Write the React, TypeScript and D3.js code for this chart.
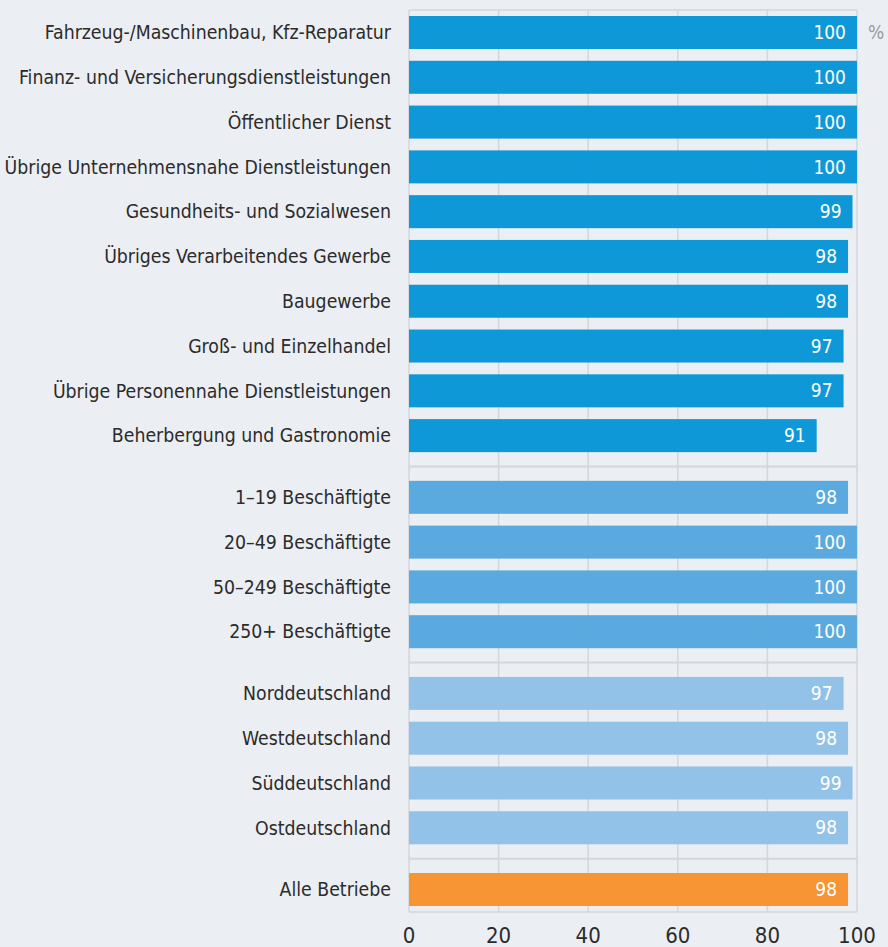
import React from "react";
import * as d3 from "d3";

const categories = [
  "Fahrzeug-/Maschinenbau, Kfz-Reparatur",
  "Finanz- und Versicherungsdienstleistungen",
  "Öffentlicher Dienst",
  "Übrige Unternehmensnahe Dienstleistungen",
  "Gesundheits- und Sozialwesen",
  "Übriges Verarbeitendes Gewerbe",
  "Baugewerbe",
  "Groß- und Einzelhandel",
  "Übrige Personennahe Dienstleistungen",
  "Beherbergung und Gastronomie",
  "1–19 Beschäftigte",
  "20–49 Beschäftigte",
  "50–249 Beschäftigte",
  "250+ Beschäftigte",
  "Norddeutschland",
  "Westdeutschland",
  "Süddeutschland",
  "Ostdeutschland",
  "Alle Betriebe",
];
const values = [100, 100, 100, 100, 99, 98, 98, 97, 97, 91, 98, 100, 100, 100, 97, 98, 99, 98, 98];
const groups = [0, 0, 0, 0, 0, 0, 0, 0, 0, 0, 1, 1, 1, 1, 2, 2, 2, 2, 3];
const groupColors = ["#0f98d7", "#5aaadf", "#93c2e8", "#f79433"];
const xTicks = [0, 20, 40, 60, 80, 100];

const W = 888;
const H = 947;
const FONT = "'DejaVu Sans Condensed', 'Liberation Sans Narrow', sans-serif";

export default function App() {
  const x = d3.scaleLinear().domain([0, 100]).range([409, 857]);
  const gapFrac = 17 / 45;
  const slots = categories.map((_, i) => i + groups[i] * gapFrac);
  const lastSlot = slots[slots.length - 1];
  const y = d3.scaleLinear().domain([0, lastSlot]).range([32.5, 889.5]);
  const barH = 33;
  const top = 10;
  const bottom = 912;
  const separators: number[] = [];
  for (let i = 1; i < categories.length; i++) {
    if (groups[i] !== groups[i - 1]) separators.push((y(slots[i - 1]) + y(slots[i])) / 2);
  }
  const gridColor = "#d3d6da";
  return (
    <svg
      width={W}
      height={H}
      style={{ position: "absolute", left: 0, top: 0, background: "#ebeef2", fontFamily: FONT }}
    >
      <rect x={0} y={0} width={W} height={H} fill="#ebeef2" />
      {xTicks.map((t) => (
        <line key={t} x1={x(t)} x2={x(t)} y1={top} y2={bottom} stroke={gridColor} strokeWidth={1.5} />
      ))}
      <line x1={x(0)} x2={x(100)} y1={top} y2={top} stroke={gridColor} strokeWidth={1.5} />
      <line x1={x(0)} x2={x(100)} y1={bottom} y2={bottom} stroke={gridColor} strokeWidth={1.5} />
      {separators.map((s, i) => (
        <line key={i} x1={x(0)} x2={x(100)} y1={s} y2={s} stroke={gridColor} strokeWidth={2} />
      ))}
      {categories.map((c, i) => {
        const cy = y(slots[i]);
        return (
          <g key={c}>
            <rect x={x(0)} y={cy - barH / 2} width={x(values[i]) - x(0)} height={barH} fill={groupColors[groups[i]]} />
            <text x={391} y={cy} dy="0.35em" textAnchor="end" fontSize={19.3} fill="#2b2b2b">
              {c}
            </text>
            <text x={x(values[i]) - 11} y={cy} dy="0.35em" textAnchor="end" fontSize={19} fill="#ffffff">
              {values[i]}
            </text>
          </g>
        );
      })}
      <text x={868} y={y(0)} dy="0.35em" fontSize={19} fill="#9a9a9a">
        %
      </text>
      {xTicks.map((t) => (
        <text key={t} x={x(t)} y={935} dy="0.35em" textAnchor="middle" fontSize={22} fill="#2b2b2b">
          {t}
        </text>
      ))}
    </svg>
  );
}
